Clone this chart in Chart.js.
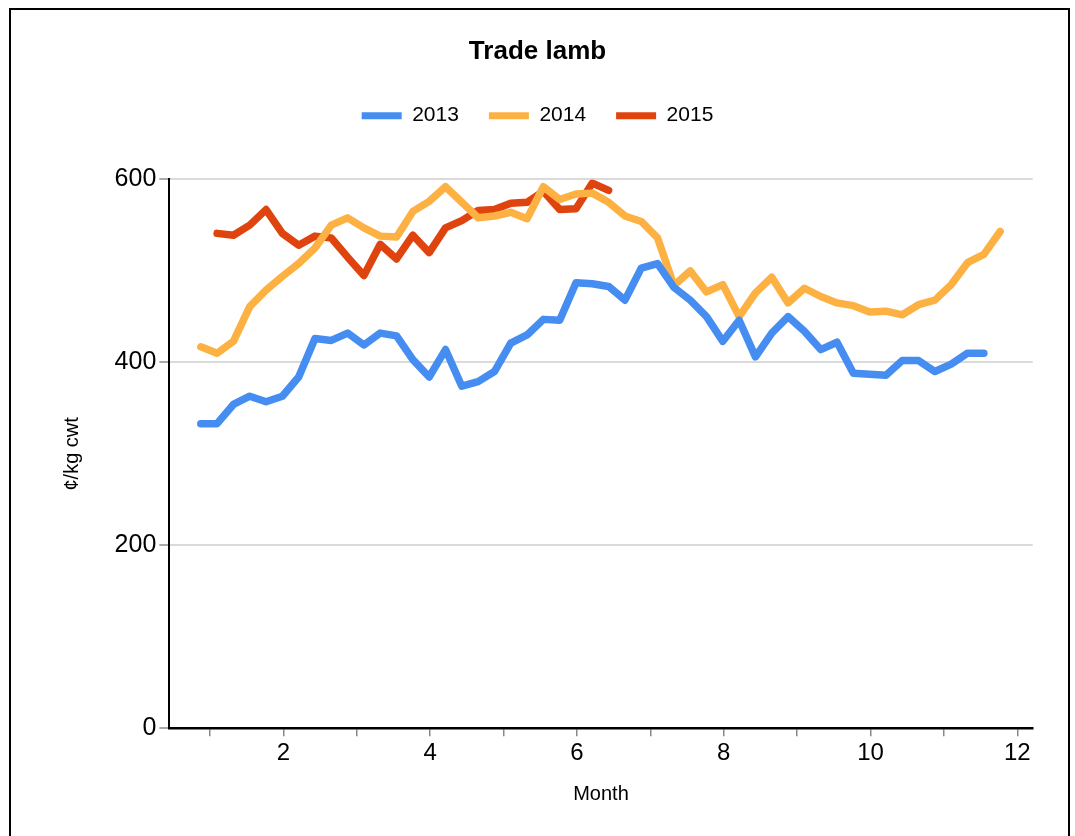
<!DOCTYPE html>
<html>
<head>
<meta charset="utf-8">
<title>Trade lamb</title>
<script src="https://cdn.jsdelivr.net/npm/chart.js@4.4.1/dist/chart.umd.min.js"></script>
<style>
  html, body { margin: 0; padding: 0; background: #fff; overflow: hidden; }
  #marco { position: absolute; left: 9px; top: 8px; width: 1057px; height: 900px; border: 2px solid #000; }
  #myChart { position: absolute; left: 0; top: 0; }
</style>
</head>
<body>
<div id="marco"></div>
<canvas id="myChart" width="1075" height="836"></canvas>
<script>
/* ticks de los ejes */
const xTicks = [1, 2, 3, 4, 5, 6, 7, 8, 9, 10, 11, 12];
const yTicks = [0, 200, 400, 600];

/* series */
const seriesNames = ['2013', '2014', '2015'];
const seriesColors = ['#458df0', '#fdb142', '#e0440e'];

// one value per week, in c/kg cwt
const lamb2013 = [333, 333, 354, 363, 357, 363, 384, 426, 424, 432, 419, 432, 429, 403, 384, 414,
  374, 379, 390, 421, 430, 447, 446, 487, 486, 483, 468, 503, 508, 482, 468, 450, 423, 446,
  406, 432, 450, 434, 414, 422, 388, 387, 386, 402, 402, 390, 398, 410, 410];
const lamb2014 = [417, 410, 423, 461, 479, 494, 508, 525, 550, 558, 547, 538, 537, 565, 576, 592,
  575, 558, 560, 564, 557, 592, 578, 584, 585, 575, 560, 554, 536, 484, 500, 477, 485, 450,
  476, 493, 465, 481, 472, 465, 462, 455, 456, 452, 463, 468, 485, 509, 518, 543];
const lamb2015 = [541, 539, 550, 567, 541, 528, 538, 536, 515, 495, 529, 513, 539, 520, 547, 555,
  566, 567, 574, 575, 587, 567, 568, 596, 588];
const firstWeek = [0, 0, 1]; // 2015 starts one week later

// where the weeks sit on the month axis
const xStart = 0.874;
const xStep = 0.2223;

Chart.defaults.font.family = "'Liberation Sans', Arial, sans-serif";
Chart.defaults.color = '#000';

function puntos(valores, primera) {
  return valores.map((v, i) => ({ x: xStart + (primera + i) * xStep, y: v }));
}

const todas = [lamb2013, lamb2014, lamb2015];
const datasets = todas.map((serie, index) => {
  return {
    label: seriesNames[index],
    data: puntos(serie, firstWeek[index]),
    borderColor: seriesColors[index],
    backgroundColor: seriesColors[index]
  };
});

const config = {
  type: 'line',
  data: { datasets: datasets },
  options: {
    responsive: false,
    devicePixelRatio: 1,
    animation: false,
    layout: { padding: { left: 0, right: 0, top: 0, bottom: 0 } },
    elements: {
      point: { radius: 0 },
      line: { borderWidth: 7.5, borderCapStyle: 'round', borderJoinStyle: 'round', tension: 0 }
    },
    plugins: {
      title: {
        display: true,
        text: 'Trade lamb',
        font: { size: 26, weight: 'bold' },
        padding: { top: 36, bottom: 8 }
      },
      // empty block that keeps the gap between legend and plot
      subtitle: {
        display: true,
        text: '',
        weight: 500,
        font: { size: 1 },
        padding: { top: 0, bottom: 42 }
      },
      legend: {
        display: true,
        labels: {
          boxWidth: 40,
          boxHeight: 7,
          padding: 30,
          font: { size: 21 },
          generateLabels: (chart) => Chart.defaults.plugins.legend.labels.generateLabels(chart)
            .map(l => Object.assign(l, { lineWidth: 0 }))
        }
      },
      tooltip: { enabled: false }
    },
    scales: {
      x: {
        type: 'linear',
        min: 0.445,
        max: 12.21,
        afterBuildTicks: (s) => { s.ticks = xTicks.map(v => ({ value: v })); },
        afterFit: (s) => { s.height = 107.7; },
        ticks: {
          callback: (v) => (v % 2 === 0 ? String(v) : ''),
          font: { size: 24 },
          padding: 3,
          maxRotation: 0,
          autoSkip: false
        },
        grid: { drawOnChartArea: false, tickLength: 8, color: '#888', lineWidth: 1.5 },
        border: { color: '#000', width: 2.5 },
        title: { display: true, text: 'Month', font: { size: 20 }, padding: { top: 0, bottom: 30 } }
      },
      y: {
        min: 0,
        max: 600,
        afterBuildTicks: (s) => { s.ticks = yTicks.map(v => ({ value: v })); },
        afterFit: (s) => { s.width = 169.3; },
        ticks: { font: { size: 25 }, padding: 3 },
        grid: { color: '#dadada', lineWidth: 2, tickLength: 10, tickColor: '#aaa' },
        border: { color: '#000', width: 2 },
        title: { display: true, text: '¢/kg cwt', font: { size: 20 }, padding: { top: 60, bottom: 0 } }
      },
      y2: {
        position: 'right',
        afterFit: (s) => { s.width = 42.3; },
        grid: { display: false },
        ticks: { display: false },
        border: { display: false }
      }
    }
  }
};

new Chart(document.getElementById('myChart'), config);
</script>
</body>
</html>
